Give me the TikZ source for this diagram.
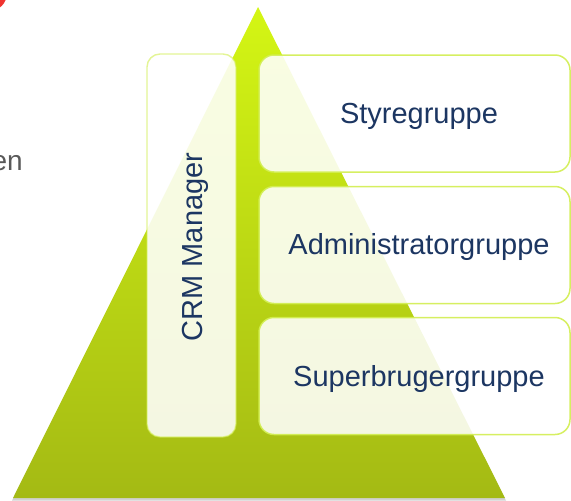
\documentclass[tikz,border=0pt]{standalone}
\usepackage{fontspec}
\setmainfont{Liberation Sans}
\definecolor{triTop}{RGB}{212,246,20}
\definecolor{triBot}{RGB}{164,186,20}
\definecolor{boxLine}{RGB}{210,238,80}
\definecolor{txtBlue}{RGB}{28,54,98}
\definecolor{txtGray}{RGB}{89,89,89}
\definecolor{dotRed}{RGB}{240,52,48}
\begin{document}
\begin{tikzpicture}[x=1pt,y=-1pt,
  groupbox/.style={draw=boxLine, draw opacity=0.9, line width=1.5pt,
    fill=white, fill opacity=0.88, rounded corners=15pt,
    minimum width=311pt, minimum height=117pt, inner sep=0pt},
  crmbox/.style={draw=boxLine, draw opacity=0.6, line width=1.4pt,
    fill=white, fill opacity=0.88, rounded corners=13pt,
    minimum width=89pt, minimum height=383pt, inner sep=0pt},
  grouplabel/.style={text=txtBlue, font=\fontsize{29}{34}\selectfont,
    inner sep=0pt, anchor=base}]
\useasboundingbox (0,0) rectangle (571,501);
% red dot in the corner
\fill[dotRed] (-10,-6) circle (16.7);
% cut text on the left
\node[text=txtGray, font=\fontsize{28}{32}\selectfont, anchor=base east, inner sep=0pt] (en) at (23,170) {en};
% pyramid shadow and body
\fill[black, opacity=0.18] (12,500.5) -- (258,9) -- (506,500.5) -- cycle;
\shade[top color=triTop, bottom color=triBot] (13,498) -- (258,7) -- (505,498) -- cycle;
% boxes
\node[crmbox] (crm) at (191.5,245.5) {};
\node[groupbox] (sty) at (414.5,113.5) {};
\node[groupbox] (adm) at (414.5,245) {};
\node[groupbox] (sup) at (414.5,376) {};
% labels
\node[grouplabel] (styT) at (419,123) {Styregruppe};
\node[grouplabel] (admT) at (419,254) {Administratorgruppe};
\node[grouplabel] (supT) at (419,386) {Superbrugergruppe};
\node[grouplabel, rotate=90] (crmT) at (202,247) {CRM Manager};
\end{tikzpicture}
\end{document}
